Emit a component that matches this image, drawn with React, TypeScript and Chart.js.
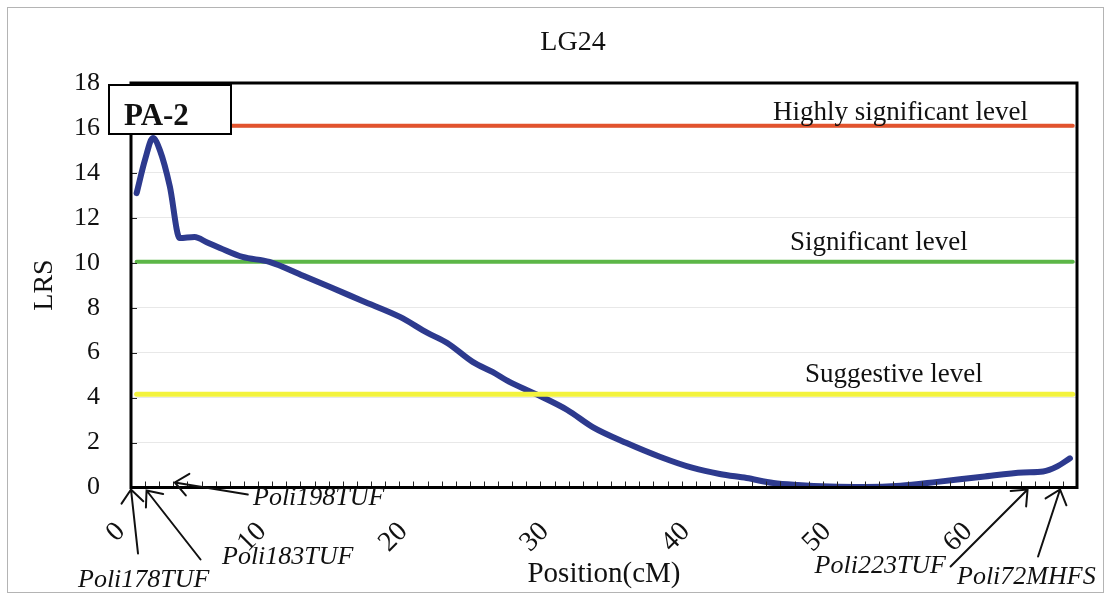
import React, { useEffect, useRef } from 'react';
import { Chart, registerables } from 'chart.js';

Chart.register(...registerables);

// ---- data ----
const chartTitle = 'LG24';
const yTitle = 'LRS';
const xTitle = 'Position(cM)';
const panelLabel = 'PA-2';

const positions = [0.4, 1.0, 1.55, 2.05, 2.75, 3.45, 4.5, 5.4, 6.3, 7.9, 9.8, 12.2, 14.1, 16.4, 19.05, 21.0, 22.4, 24.2, 25.6, 26.8, 28.8, 30.9, 32.7, 35.1, 37.5, 39.8, 41.7, 43.6, 45.5, 47.2, 49.5, 52.0, 54.5, 57.1, 60.3, 63.2, 64.6, 65.6, 66.5];
const lrs = [13.1, 14.6, 15.55, 15.0, 13.4, 11.1, 11.15, 10.9, 10.66, 10.26, 10.04, 9.42, 8.92, 8.3, 7.59, 6.88, 6.43, 5.59, 5.14, 4.7, 4.12, 3.45, 2.69, 1.98, 1.36, 0.87, 0.6, 0.42, 0.2, 0.11, 0.04, 0.02, 0.08, 0.25, 0.48, 0.67, 0.71, 0.94, 1.3];

const levelNames = ['Highly significant level', 'Significant level', 'Suggestive level'];
const levelValues = [16.1, 10.05, 4.15];
const levelStart = 0.4;
const levelEnd = 66.7;

const markerNames = ['Poli178TUF', 'Poli183TUF', 'Poli198TUF', 'Poli223TUF', 'Poli72MHFS'];
const markerPositions = [0, 1.1, 3.1, 63.5, 65.8];

const xTickValues = [0, 10, 20, 30, 40, 50, 60];
const yTickValues = [0, 2, 4, 6, 8, 10, 12, 14, 16, 18];
const xMin = 0;
const xMax = 67;
const yMin = 0;
const yMax = 18;

// ---- styles / layout ----
const SERIF = '"Liberation Serif", "Times New Roman", serif';
const levelColors = ['#e2532d', '#5cb647', '#f3f33e'];
const levelWidths = [4, 4, 5];
const curveColor = '#2d3a8e';
const levelLabelX = [773, 790, 805];
const levelLabelDy = [-6, -12, -12];
const arrowTipDy = [2, 3, -5, 2, 2];
const arrowTail = [
  [7, 64],
  [54, 69],
  [73, 12],
  [-77, 77],
  [-22, 67],
];
const markerLabelPos: [number, number, CanvasTextAlign][] = [
  [78, 587, 'left'],
  [222, 564, 'left'],
  [253, 505, 'left'],
  [946, 573, 'right'],
  [957, 584, 'left'],
];

export default function App() {
  const ref = useRef<HTMLCanvasElement>(null);

  useEffect(() => {
    const canvas = ref.current!;

    const overlay = {
      id: 'overlay',
      afterDraw(chart: any) {
        const ctx: CanvasRenderingContext2D = chart.ctx;
        const xs = chart.scales.x;
        const ys = chart.scales.y;
        const a = chart.chartArea;
        ctx.save();

        // outer frame
        ctx.strokeStyle = '#b4b4b4';
        ctx.lineWidth = 1;
        ctx.strokeRect(7.5, 7.5, 1096, 585);

        // inner tick marks
        ctx.strokeStyle = '#222';
        ctx.lineWidth = 1;
        ctx.beginPath();
        for (let v = Math.ceil(xMin) + 1; v < xMax; v++) {
          const px = Math.round(xs.getPixelForValue(v)) + 0.5;
          ctx.moveTo(px, a.bottom);
          ctx.lineTo(px, a.bottom - 6);
        }
        for (const v of yTickValues) {
          if (v === yMin || v === yMax) continue;
          const py = Math.round(ys.getPixelForValue(v)) + 0.5;
          ctx.moveTo(a.left, py);
          ctx.lineTo(a.left + 6, py);
        }
        ctx.stroke();

        // plot border
        ctx.strokeStyle = '#000';
        ctx.lineWidth = 3;
        ctx.strokeRect(a.left, a.top, a.right - a.left, a.bottom - a.top);

        // x tick labels (rotated)
        ctx.fillStyle = '#111';
        ctx.font = `28px ${SERIF}`;
        ctx.textAlign = 'right';
        ctx.textBaseline = 'middle';
        for (const t of xs.ticks) {
          const px = xs.getPixelForValue(t.value);
          ctx.save();
          ctx.translate(px - 10, a.bottom + 40);
          ctx.rotate(-Math.PI / 4);
          ctx.fillText(String(t.value), 0, 0);
          ctx.restore();
        }

        // title & axis titles
        ctx.textBaseline = 'alphabetic';
        ctx.textAlign = 'center';
        ctx.font = `28px ${SERIF}`;
        ctx.fillText(chartTitle, (a.left + a.right) / 2 - 31, 50);
        ctx.font = `29px ${SERIF}`;
        ctx.fillText(xTitle, 604, 582);
        ctx.save();
        ctx.translate(52, 285);
        ctx.rotate(-Math.PI / 2);
        ctx.font = `28px ${SERIF}`;
        ctx.fillText(yTitle, 0, 0);
        ctx.restore();

        // level labels
        ctx.textAlign = 'left';
        ctx.font = `27px ${SERIF}`;
        levelNames.forEach((name, i) => {
          const py = ys.getPixelForValue(levelValues[i]) + levelLabelDy[i];
          ctx.fillText(name, levelLabelX[i], py);
        });

        // panel box
        ctx.fillStyle = '#fff';
        ctx.fillRect(109, 85, 122, 49);
        ctx.strokeStyle = '#000';
        ctx.lineWidth = 2;
        ctx.strokeRect(109, 85, 122, 49);
        ctx.fillStyle = '#111';
        ctx.font = `bold 31px ${SERIF}`;
        ctx.textAlign = 'left';
        ctx.fillText(panelLabel, 124, 125);

        // marker arrows
        const zero = ys.getPixelForValue(0);
        ctx.strokeStyle = '#111';
        ctx.lineWidth = 2;
        ctx.lineCap = 'round';
        markerPositions.forEach((pos, i) => {
          const tx = xs.getPixelForValue(pos);
          const ty = zero + arrowTipDy[i];
          const ex = tx + arrowTail[i][0];
          const ey = ty + arrowTail[i][1];
          const ang = Math.atan2(ey - ty, ex - tx);
          const L = 17;
          const spread = 0.7;
          ctx.beginPath();
          ctx.moveTo(ex, ey);
          ctx.lineTo(tx, ty);
          ctx.moveTo(tx + L * Math.cos(ang - spread), ty + L * Math.sin(ang - spread));
          ctx.lineTo(tx, ty);
          ctx.lineTo(tx + L * Math.cos(ang + spread), ty + L * Math.sin(ang + spread));
          ctx.stroke();
        });

        // marker labels
        ctx.font = `italic 26px ${SERIF}`;
        markerNames.forEach((name, i) => {
          const [lx, ly, al] = markerLabelPos[i];
          ctx.textAlign = al;
          ctx.fillText(name, lx, ly);
        });

        ctx.restore();
      },
    };

    const curve = positions.map((x, i) => ({ x, y: lrs[i] }));
    const levelSets = levelNames.map((name, i) => ({
      label: name,
      data: [
        { x: levelStart, y: levelValues[i] },
        { x: levelEnd, y: levelValues[i] },
      ],
      borderColor: levelColors[i],
      borderWidth: levelWidths[i],
      pointRadius: 0,
      borderCapStyle: 'round' as const,
      order: i === 2 ? 0 : 2 + i,
    }));

    const chart = new Chart(canvas, {
      type: 'line',
      data: {
        datasets: [
          ...levelSets,
          {
            label: 'LRS',
            data: curve,
            borderColor: curveColor,
            borderWidth: 6,
            pointRadius: 0,
            cubicInterpolationMode: 'monotone',
            borderCapStyle: 'round',
            borderJoinStyle: 'round',
            order: 1,
          } as any,
        ],
      },
      options: {
        animation: false,
        responsive: false,
        maintainAspectRatio: false,
        events: [],
        layout: { padding: { top: 83, right: 31, left: 0, bottom: 0 } },
        plugins: {
          legend: { display: false },
          title: { display: false },
          tooltip: { enabled: false },
        },
        scales: {
          x: {
            type: 'linear',
            min: xMin,
            max: xMax,
            afterBuildTicks: (s: any) => {
              s.ticks = xTickValues.map((v) => ({ value: v }));
            },
            afterFit: (s: any) => {
              s.height = 107.5;
            },
            grid: { display: false },
            border: { display: false },
            ticks: { display: false, autoSkip: false },
          },
          y: {
            type: 'linear',
            min: yMin,
            max: yMax,
            afterBuildTicks: (s: any) => {
              s.ticks = yTickValues.map((v) => ({ value: v }));
            },
            afterFit: (s: any) => {
              s.width = 131;
            },
            grid: { color: '#e8e8e8', lineWidth: 1, drawTicks: false },
            border: { display: false },
            ticks: {
              padding: 31,
              color: '#111',
              font: { family: SERIF, size: 26 },
            },
          },
        },
      },
      plugins: [overlay],
    });

    return () => chart.destroy();
  }, []);

  return (
    <div style={{ position: 'fixed', left: 0, top: 0, width: 1108, height: 595, background: '#fff' }}>
      <canvas ref={ref} width={1108} height={595} style={{ display: 'block', width: 1108, height: 595 }} />
    </div>
  );
}
